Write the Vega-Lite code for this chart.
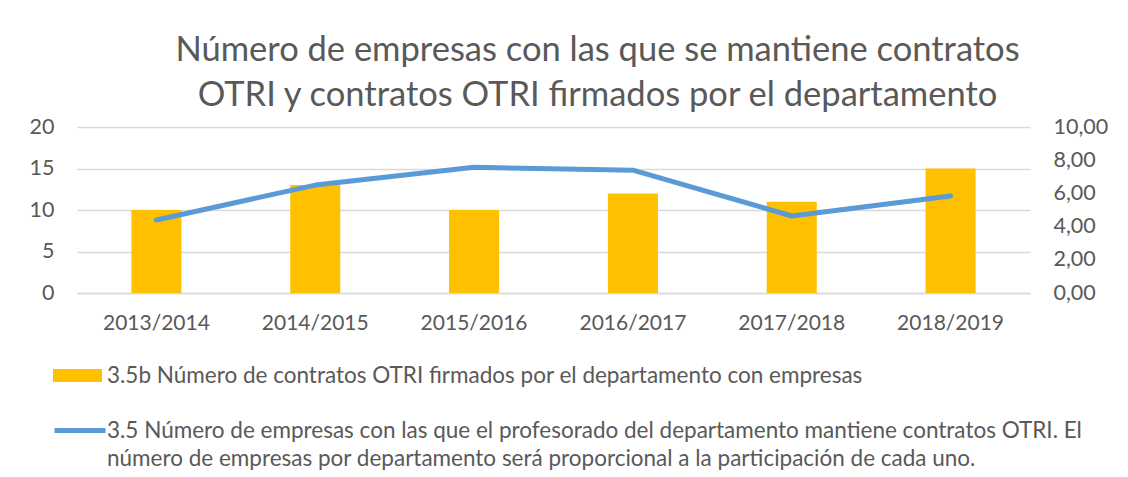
{
  "$schema": "https://vega.github.io/schema/vega-lite/v6.json",
  "width": 953,
  "height": 166,
  "autosize": {"type": "none"},
  "padding": {"left": 77, "top": 127, "right": 98, "bottom": 184},
  "background": "white",
  "config": {
    "font": "Lato",
    "view": {"stroke": null},
    "axis": {"labelColor": "#595959", "labelFontSize": 21.5, "labelFont": "Lato", "ticks": false, "domain": false, "gridColor": "#D9D9D9", "gridWidth": 1.3},
    "legend": {"labelFont": "Lato", "labelColor": "#595959", "labelFontSize": 22.5, "labelLimit": 2000, "padding": 0},
    "style": {"guide-label": {"lineHeight": 28}}
  },
  "title": {
    "text": ["Número de empresas con las que se mantiene contratos", "OTRI y contratos OTRI firmados por el departamento"],
    "fontSize": 34.5,
    "fontWeight": "normal",
    "color": "#595959",
    "font": "Lato",
    "anchor": "middle",
    "frame": "group",
    "dx": 44,
    "lineHeight": 45,
    "offset": 3
  },
  "data": {
    "values": [
      {"curso": "2013/2014", "contratos": 10, "empresas": 4.4},
      {"curso": "2014/2015", "contratos": 13, "empresas": 6.5},
      {"curso": "2015/2016", "contratos": 10, "empresas": 7.57},
      {"curso": "2016/2017", "contratos": 12, "empresas": 7.4},
      {"curso": "2017/2018", "contratos": 11, "empresas": 4.64},
      {"curso": "2018/2019", "contratos": 15, "empresas": 5.84}
    ]
  },
  "encoding": {
    "x": {
      "field": "curso",
      "type": "nominal",
      "sort": null,
      "scale": {"paddingInner": 0.685, "paddingOuter": 0.3425},
      "axis": {"title": null, "labelAngle": 0, "labelPadding": 19, "labelFontSize": 21, "domain": true, "domainColor": "#D9D9D9", "domainWidth": 1.3}
    }
  },
  "layer": [
    {
      "mark": {"type": "bar"},
      "encoding": {
        "y": {
          "field": "contratos",
          "type": "quantitative",
          "scale": {"domain": [0, 20], "nice": false},
          "axis": {"title": null, "values": [0, 5, 10, 15, 20], "grid": true, "labelPadding": 23}
        },
        "fill": {
          "datum": "3.5b Número de contratos OTRI firmados por el departamento con empresas",
          "type": "nominal",
          "scale": {"range": ["#FFC000"]},
          "legend": {
            "title": null,
            "orient": "none",
            "legendX": -24,
            "legendY": 224,
            "symbolType": "M-1,-0.27H1V0.27H-1Z",
            "symbolSize": 2401,
            "symbolStrokeWidth": 0,
            "labelOffset": 5
          }
        }
      }
    },
    {
      "mark": {"type": "line", "strokeWidth": 5, "strokeCap": "round", "strokeJoin": "round"},
      "encoding": {
        "y": {
          "field": "empresas",
          "type": "quantitative",
          "scale": {"domain": [0, 10], "nice": false},
          "axis": {
            "title": null,
            "orient": "right",
            "values": [0, 2, 4, 6, 8, 10],
            "grid": false,
            "labelPadding": 23,
            "labelExpr": "replace(format(datum.value, '.2f'), '.', ',')"
          }
        },
        "stroke": {
          "datum": "3.5 Número de empresas con las que el profesorado del departamento mantiene contratos OTRI. El número de empresas por departamento será proporcional a la participación de cada uno.",
          "type": "nominal",
          "scale": {"range": ["#5B9BD5"]},
          "legend": {
            "title": null,
            "orient": "none",
            "legendX": -25,
            "legendY": 275.5,
            "symbolType": "M-1,0H1",
            "symbolSize": 2601,
            "symbolStrokeWidth": 5,
            "labelOffset": -1,
            "labelExpr": "split(replace(datum.label, ' número de empresas por', '|número de empresas por'), '|')"
          }
        }
      }
    }
  ],
  "resolve": {"scale": {"y": "independent"}}
}
